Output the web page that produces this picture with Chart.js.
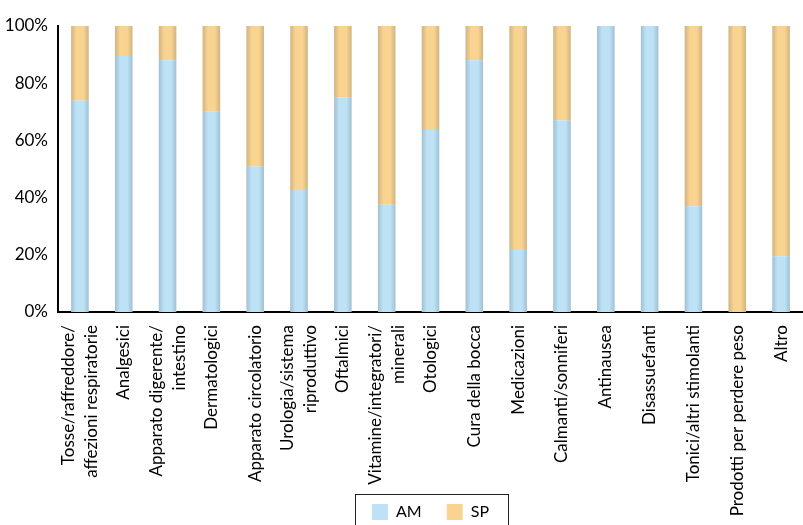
<!DOCTYPE html>
<html>
<head>
<meta charset="utf-8">
<script src="https://cdn.jsdelivr.net/npm/chart.js@4.4.1/dist/chart.umd.min.js"></script>
<style>
  html, body { margin: 0; padding: 0; background: #fff; }
  canvas { display: block; }
</style>
</head>
<body>
<canvas id="grafico" width="803" height="525"></canvas>
<script>
const categorie = [
  ["Tosse/raffreddore/", "affezioni respiratorie"],
  "Analgesici",
  ["Apparato digerente/", "intestino"],
  "Dermatologici",
  "Apparato circolatorio",
  ["Urologia/sistema", "riproduttivo"],
  "Oftalmici",
  ["Vitamine/integratori/", "minerali"],
  "Otologici",
  "Cura della bocca",
  "Medicazioni",
  "Calmanti/sonniferi",
  "Antinausea",
  "Disassuefanti",
  "Tonici/altri stimolanti",
  "Prodotti per perdere peso",
  "Altro"
];

const valoriAM = [74, 89.5, 88, 70, 51, 43, 75, 37.5, 64, 88, 22, 67, 100, 100, 37, 0, 19.5];
const valoriSP = [26, 10.5, 12, 30, 49, 57, 25, 62.5, 36, 12, 78, 33, 0, 0, 63, 100, 80.5];

const tickY = [0, 20, 40, 60, 80, 100];

const FONT = 'Lato, "Open Sans", sans-serif';

// bordi sfumati sulle barre
const sfumatura = {
  id: "sfumatura",
  afterDatasetsDraw(chart) {
    const ctx = chart.ctx;
    chart.data.datasets.forEach((ds, i) => {
      chart.getDatasetMeta(i).data.forEach(bar => {
        const h = bar.base - bar.y;
        if (h <= 0) return;
        const x0 = bar.x - bar.width / 2;
        const g = ctx.createLinearGradient(x0, 0, x0 + bar.width, 0);
        g.addColorStop(0, "rgba(60,70,80,0.22)");
        g.addColorStop(0.3, "rgba(60,70,80,0)");
        g.addColorStop(0.7, "rgba(60,70,80,0)");
        g.addColorStop(1, "rgba(60,70,80,0.22)");
        ctx.save();
        ctx.fillStyle = g;
        ctx.fillRect(x0, bar.y, bar.width, h);
        ctx.restore();
      });
    });
  }
};

// etichette dell'asse x ruotate, blocco centrato sul tick
const etichetteX = {
  id: "etichetteX",
  afterDraw(chart) {
    const scale = chart.scales.x;
    const ctx = chart.ctx;
    const interlinea = 23;
    ctx.save();
    ctx.font = "17px " + FONT;
    ctx.fillStyle = "#000";
    ctx.textAlign = "right";
    ctx.textBaseline = "middle";
    categorie.forEach((lab, i) => {
      const righe = Array.isArray(lab) ? lab : [lab];
      ctx.save();
      ctx.translate(scale.getPixelForTick(i), scale.top + 13);
      ctx.rotate(-Math.PI / 2);
      righe.forEach((r, k) => {
        ctx.fillText(r, 0, (k - (righe.length - 1) / 2) * interlinea);
      });
      ctx.restore();
    });
    ctx.restore();
  }
};

// cornice attorno alla legenda
const bordoLegenda = {
  id: "bordoLegenda",
  afterDraw(chart) {
    const boxes = chart.legend.legendHitBoxes;
    if (!boxes || !boxes.length) return;
    const first = boxes[0];
    const last = boxes[boxes.length - 1];
    const ctx = chart.ctx;
    ctx.save();
    ctx.strokeStyle = "#222";
    ctx.lineWidth = 1;
    const left = Math.round(first.left - 17) + 0.5;
    const right = Math.round(last.left + last.width + 19) + 0.5;
    const top = Math.round(first.top - 10) + 0.5;
    ctx.strokeRect(left, top, right - left, 60);
    ctx.restore();
  }
};

new Chart(document.getElementById("grafico"), {
  type: "bar",
  data: {
    labels: categorie,
    datasets: [
      {
        label: "AM",
        data: valoriAM,
        backgroundColor: "#bde2f6",
        borderWidth: 0
      },
      {
        label: "SP",
        data: valoriSP,
        backgroundColor: "#f9d390",
        borderWidth: 0
      }
    ]
  },
  options: {
    responsive: false,
    animation: false,
    layout: {
      padding: { top: 26, left: 0, right: -2, bottom: -5 }
    },
    datasets: {
      bar: { barPercentage: 0.4, categoryPercentage: 1 }
    },
    scales: {
      x: {
        stacked: true,
        grid: { display: false, drawTicks: false },
        border: { display: true, color: "#000", width: 2 },
        ticks: { display: false },
        afterFit(scale) { scale.height = 167; }
      },
      y: {
        stacked: true,
        min: 0,
        max: 100,
        grid: { display: false, drawTicks: false },
        border: { display: true, color: "#000", width: 2 },
        ticks: {
          color: "#000",
          font: { family: FONT, size: 17 },
          padding: 10,
          callback: v => v + "%"
        },
        afterBuildTicks(scale) { scale.ticks = tickY.map(v => ({ value: v })); },
        afterFit(scale) { scale.width = 58; }
      }
    },
    plugins: {
      tooltip: { enabled: false },
      legend: {
        position: "bottom",
        fullSize: false,
        labels: {
          color: "#000",
          font: { family: FONT, size: 16 },
          boxWidth: 16,
          boxHeight: 16,
          padding: 25
        }
      }
    }
  },
  plugins: [sfumatura, etichetteX, bordoLegenda]
});
</script>
</body>
</html>
